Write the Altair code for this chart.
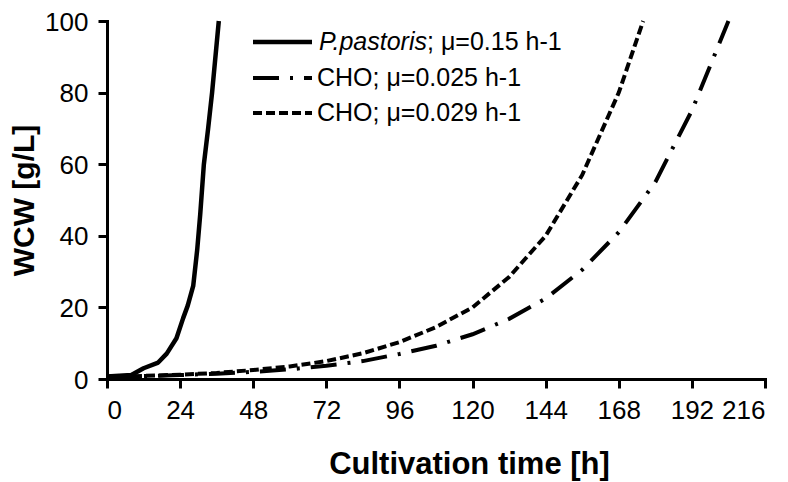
import altair as alt
import pandas as pd

# ---- data ----
pp_t = [0, 4, 8, 12, 16.8, 19.6, 22.8, 25.0, 26.5, 28.3, 29.6, 30.6, 31.8, 33.2, 34.5, 36.7]
pp_y = [0.7, 0.9, 1.1, 3.0, 4.6, 7.1, 11.4, 17.0, 20.5, 26.0, 36.0, 46.0, 60.0, 70.0, 80.0, 100.0]

cho25_t = [0, 12, 24, 36, 48, 60, 72, 84, 96, 108, 120, 132, 144, 156, 168, 180, 192, 204]
cho25_y = [0.6, 0.8, 1.1, 1.5, 2.0, 2.7, 3.7, 5.0, 7.0, 9.3, 12.5, 16.8, 22.5, 30.5, 41.0, 55.0, 75.0, 100.0]

cho29_t = [0, 12, 24, 36, 48, 60, 72, 84, 96, 108, 120, 132, 144, 156, 168, 176]
cho29_y = [0.6, 0.85, 1.2, 1.7, 2.5, 3.5, 5.0, 7.2, 10.3, 14.5, 20.0, 28.5, 40.0, 57.0, 80.0, 100.0]

x_ticks = [0, 24, 48, 72, 96, 120, 144, 168, 192, 216]
y_ticks = [0, 20, 40, 60, 80, 100]

leg_italic = "P.pastoris"
leg_labels = ["; \u03bc=0.15 h-1", "CHO; \u03bc=0.025 h-1", "CHO; \u03bc=0.029 h-1"]

FONT = "Liberation Sans"

def frame(t, y):
    return pd.DataFrame({"t": t, "y": y})

x_enc = alt.X(
    "t:Q",
    scale=alt.Scale(domain=[0, 216], nice=False, zero=False),
    axis=alt.Axis(
        values=x_ticks, title="Cultivation time [h]", grid=False,
        labelPadding=9, titleX=362, titleY=94, titleBaseline="alphabetic",
        titleAlign="center", titleFontSize=31,
    ),
)
y_enc = alt.Y(
    "y:Q",
    scale=alt.Scale(domain=[0, 100], nice=False),
    axis=alt.Axis(
        values=y_ticks, title="WCW [g/L]", grid=False,
        labelPadding=10, labelOffset=1, titleX=-74, titleBaseline="alphabetic",
        titleAlign="center", titleFontSize=30,
    ),
)

pp = alt.Chart(frame(pp_t, pp_y)).mark_line(
    color="black", strokeWidth=4.5, strokeJoin="round"
).encode(x=x_enc, y=y_enc)

c25 = alt.Chart(frame(cho25_t, cho25_y)).mark_line(
    color="black", strokeWidth=4, strokeDash=[26, 11, 3, 11]
).encode(x="t:Q", y="y:Q")

c29 = alt.Chart(frame(cho29_t, cho29_y)).mark_line(
    color="black", strokeWidth=4, strokeDash=[9, 4]
).encode(x="t:Q", y="y:Q")

one = pd.DataFrame({"k": [0]})
leg_rows = [21, 57, 92]
dashes = [[1, 0], [26, 11, 3, 11], [9, 4]]
widths = [4.5, 4, 4]

legend_layers = []
for i in range(3):
    legend_layers.append(
        alt.Chart(one).mark_rule(
            color="black", strokeWidth=widths[i], strokeDash=dashes[i]
        ).encode(x=alt.value(146), x2=alt.value(205), y=alt.value(leg_rows[i]))
    )
legend_layers.append(
    alt.Chart(one).mark_text(
        text=leg_italic, font=FONT, fontSize=25, fontStyle="italic",
        align="left", baseline="middle", color="black",
    ).encode(x=alt.value(212), y=alt.value(leg_rows[0]))
)
legend_layers.append(
    alt.Chart(one).mark_text(
        text=leg_labels[0], font=FONT, fontSize=25,
        align="left", baseline="middle", color="black",
    ).encode(x=alt.value(320), y=alt.value(leg_rows[0]))
)
for i in (1, 2):
    legend_layers.append(
        alt.Chart(one).mark_text(
            text=leg_labels[i], font=FONT, fontSize=25,
            align="left", baseline="middle", color="black",
        ).encode(x=alt.value(210), y=alt.value(leg_rows[i]))
    )

chart = alt.layer(pp, c25, c29, *legend_layers).properties(
    width=658, height=358,
    autosize=alt.AutoSizeParams(type="none"),
    padding={"left": 99, "top": 13, "right": 15, "bottom": 103},
).configure_view(stroke=None).configure_axis(
    domainColor="black", domainWidth=3, domainCap="square",
    tickColor="black", tickWidth=3, tickSize=9,
    labelFont=FONT, labelFontSize=26, labelColor="black",
    titleFont=FONT, titleFontWeight="bold", titleColor="black",
)

chart.save("out.html", embed_options={"renderer": "svg", "actions": False})
